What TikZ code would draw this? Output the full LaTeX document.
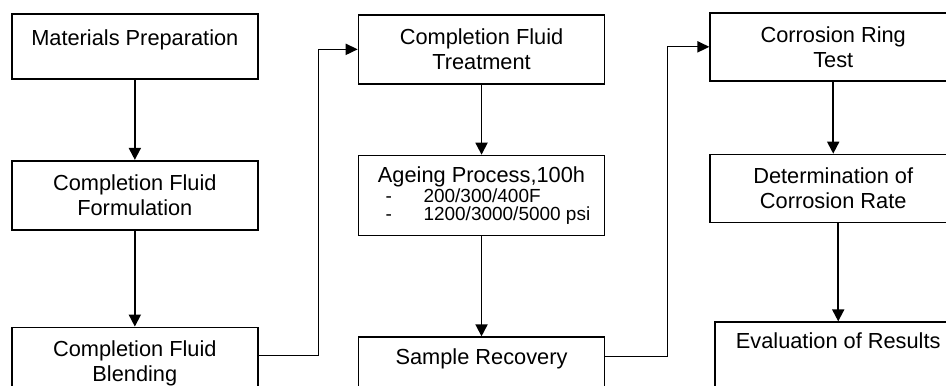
\documentclass[tikz,border=0pt]{standalone}
\usepackage{fontspec}
\setmainfont{Liberation Sans}
\usetikzlibrary{arrows.meta, positioning}

\begin{document}
\begin{tikzpicture}[node distance=2cm,
  stage/.style={rectangle, draw, line width=1.2pt, minimum width=6.15cm, align=center, inner xsep=0pt, inner ysep=0pt, font=\fontsize{15.5}{17.8}\selectfont},
  onetop/.style 2 args={text height=#1, text depth=#2},
  arrow/.style={-{Triangle[length=0.3cm, width=0.3cm]}, line width=1.3pt},
  link/.style={-{Triangle[length=0.3cm, width=0.28cm]}, line width=0.9pt}]
  \path[use as bounding box, clip] (0,0) rectangle (23.65,-9.65);
  % first column
  \node[stage, onetop={0.79cm}{0.84cm}, anchor=north west] (prep) at (0.275,-0.325) {Materials Preparation};
  \node[stage, minimum height=1.725cm, below=2cm of prep] (form) {Completion Fluid\\Formulation};
  \node[stage, minimum height=1.775cm, below=2.4cm of form] (blend) {Completion Fluid\\Blending};
  % second column
  \node[stage, minimum height=1.725cm, right=2.475cm of prep.north east, anchor=north west, yshift=-0.025cm] (treat) {Completion Fluid\\Treatment};
  \node[stage, minimum height=2cm, below=1.75cm of treat, font=\fontsize{13.5}{12.8}\selectfont] (ageing) {{\fontsize{15.5}{17.8}\selectfont Ageing Process,100h}\\
    \makebox[4.8cm][l]{\makebox[0.95cm][l]{-}200/300/400F}\\
    \makebox[4.8cm][l]{\makebox[0.95cm][l]{-}1200/3000/5000 psi}};
  \node[stage, onetop={0.69cm}{0.74cm}, below=2.5cm of ageing] (recov) {Sample Recovery};
  % third column
  \node[stage, minimum height=1.7cm, right=2.6cm of treat.north east, anchor=north west, yshift=0.05cm] (ring) {Corrosion Ring\\Test};
  \node[stage, minimum height=1.7cm, below=1.8cm of ring] (rate) {Determination of\\Corrosion Rate};
  \node[stage, onetop={0.66cm}{1.19cm}, below=2.45cm of rate, xshift=0.125cm] (eval) {Evaluation of Results};
  % arrows
  \draw[arrow] (prep) -- (form);
  \draw[arrow] (form) -- (blend);
  \draw[arrow] (treat) -- (ageing);
  \draw[arrow] (ageing) -- (recov);
  \draw[arrow] (ring) -- (rate);
  \draw[arrow] (eval.north |- rate.south) -- (eval.north);
  \draw[link] ([yshift=0.19cm]blend.east) -- ++(1.5,0) |- (treat.west);
  \draw[link] ([yshift=0.24cm]recov.east) -- ++(1.55,0) |- (ring.west);
\end{tikzpicture}
\end{document}
